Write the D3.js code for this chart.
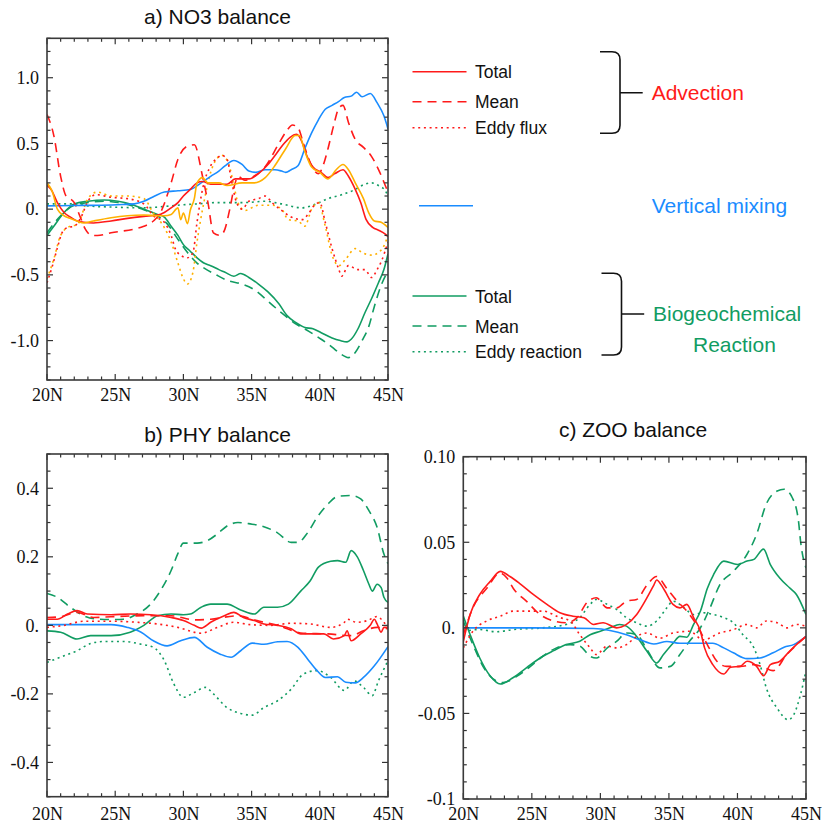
<!DOCTYPE html>
<html><head><meta charset="utf-8">
<script src="https://cdn.jsdelivr.net/npm/d3@7"></script>
<style>
html,body{margin:0;padding:0;background:#fff;}
svg{display:block;}
</style></head>
<body>
<svg id="chart" width="822" height="825"></svg>
<script>
// ---------------- DATA ----------------
const latTicks = [20, 25, 30, 35, 40, 45];
const latLabels = ["20N", "25N", "30N", "35N", "40N", "45N"];

// a) NO3 balance  [latitude, value]
const aAdvTotal = [[20,0.18],[20.3,0.15],[20.76,0.05],[21.25,-0.025],[21.7,-0.06],[22.2,-0.09],[22.7,-0.1],[23.4,-0.105],[24.7,-0.09],[25.9,-0.07],[27.1,-0.055],[28.1,-0.045],[28.6,-0.025],[29.1,0.01],[29.6,0.05],[30.0,0.1],[30.5,0.15],[31.0,0.2],[31.4,0.21],[32.0,0.19],[32.6,0.19],[33.2,0.19],[33.8,0.23],[34.8,0.23],[35.5,0.27],[36.2,0.34],[36.8,0.42],[37.3,0.49],[37.8,0.545],[38.3,0.57],[38.7,0.51],[39.0,0.42],[39.5,0.32],[40.1,0.28],[40.6,0.24],[41.1,0.27],[41.7,0.3],[42.1,0.25],[42.6,0.15],[43.0,0.05],[43.4,-0.08],[43.9,-0.14],[44.3,-0.16],[44.8,-0.19],[45,-0.21]];
const aAdvMean = [[20,0.72],[20.5,0.56],[21,0.25],[21.4,0.1],[21.7,0.08],[22.0,0.05],[22.4,-0.05],[22.8,-0.15],[23.3,-0.2],[23.7,-0.2],[24.7,-0.18],[27.1,-0.13],[27.8,-0.09],[28.3,-0.03],[29.1,0.2],[29.6,0.38],[30.3,0.48],[30.8,0.49],[31.4,0.25],[31.8,0.05],[32.2,-0.18],[32.7,-0.2],[33.05,-0.15],[33.4,0],[33.8,0.2],[34.0,0.25],[34.5,0.22],[35.0,0.24],[36.05,0.33],[37.0,0.5],[37.6,0.6],[38.0,0.64],[38.4,0.62],[38.8,0.5],[39.4,0.33],[39.9,0.27],[40.3,0.35],[40.6,0.46],[41.0,0.63],[41.4,0.77],[41.7,0.79],[42.1,0.66],[42.6,0.53],[43.2,0.47],[43.8,0.4],[44.4,0.28],[44.8,0.18],[45,0.13]];
const aAdvEddy = [[20,-0.56],[20.4,-0.43],[20.8,-0.28],[21.1,-0.18],[21.5,-0.14],[22.0,-0.13],[22.5,-0.06],[23.0,0.06],[23.6,0.11],[24.7,0.09],[25.9,0.08],[27.1,0.04],[27.8,-0.05],[28.6,-0.1],[29.1,-0.2],[29.4,-0.3],[29.8,-0.35],[30.3,-0.37],[30.7,-0.33],[31.0,-0.1],[31.4,0.15],[32.0,0.33],[32.5,0.39],[32.8,0.41],[33.2,0.38],[33.5,0.23],[33.9,0.05],[34.3,0],[34.8,0.06],[35.5,0.08],[36.0,0.1],[36.5,0.05],[37.2,-0.01],[37.9,-0.06],[38.7,-0.08],[39.2,-0.03],[39.6,0.03],[40.0,0.05],[40.4,-0.1],[40.9,-0.3],[41.4,-0.46],[41.6,-0.51],[42.1,-0.43],[42.8,-0.46],[43.3,-0.46],[43.8,-0.52],[44.2,-0.46],[44.5,-0.4],[45,-0.25]];
const aAdvTotalAlt = [[20,0.2],[20.4,0.13],[20.76,0.0],[21.25,-0.05],[21.7,-0.07],[22.2,-0.09],[22.7,-0.105],[23.4,-0.09],[24.7,-0.065],[25.9,-0.05],[27.1,-0.045],[28.1,-0.05],[28.6,-0.05],[29.1,-0.04],[29.6,0.01],[29.8,-0.08],[30.0,-0.03],[30.3,-0.11],[30.5,-0.01],[30.8,0.08],[31.0,0.2],[31.4,0.24],[31.8,0.2],[32.6,0.2],[33.2,0.18],[34.3,0.2],[35.2,0.2],[36.0,0.24],[36.7,0.33],[37.5,0.46],[38.2,0.56],[38.5,0.56],[38.9,0.44],[39.4,0.32],[40.0,0.28],[40.6,0.23],[41.2,0.3],[41.7,0.34],[42.1,0.3],[42.6,0.2],[43.2,0.08],[43.6,-0.03],[44.0,-0.09],[44.5,-0.1],[45,-0.14]];
const aAdvEddyAlt = [[20,-0.53],[20.5,-0.38],[21.0,-0.2],[21.7,-0.13],[22.2,-0.12],[23.0,0.08],[23.7,0.13],[24.7,0.1],[25.9,0.1],[27.1,0.08],[27.8,-0.03],[28.6,-0.14],[29.1,-0.25],[29.6,-0.41],[30.0,-0.53],[30.3,-0.57],[30.7,-0.48],[31.0,-0.25],[31.5,0.05],[32.0,0.28],[32.5,0.39],[32.8,0.41],[33.3,0.35],[33.7,0.18],[34.0,0.05],[34.5,-0.01],[35.5,0.03],[36.5,0.03],[37.2,0],[37.7,-0.08],[38.4,-0.09],[38.9,-0.13],[39.4,0.0],[39.9,0.05],[40.4,-0.13],[40.9,-0.35],[41.4,-0.43],[41.9,-0.38],[42.6,-0.3],[43.1,-0.33],[43.8,-0.35],[44.3,-0.33],[44.7,-0.28],[45,-0.2]];
const aVmix = [[20,0.025],[22,0.028],[24,0.03],[25.5,0.035],[26.4,0.04],[27.1,0.06],[27.9,0.1],[28.6,0.13],[29.6,0.14],[30.5,0.15],[31.3,0.2],[32.0,0.25],[32.6,0.29],[33.05,0.33],[33.7,0.37],[34.3,0.34],[34.8,0.29],[35.3,0.28],[36.0,0.3],[36.7,0.3],[37.2,0.29],[37.5,0.28],[37.9,0.3],[38.4,0.33],[38.9,0.46],[39.4,0.58],[39.9,0.68],[40.4,0.76],[40.9,0.79],[41.4,0.82],[41.8,0.85],[42.3,0.86],[42.7,0.89],[43.1,0.855],[43.7,0.88],[44.2,0.81],[44.7,0.71],[45,0.61]];
const aBioTotal = [[20,-0.2],[20.5,-0.13],[21.25,-0.025],[22,0.04],[23,0.06],[24.2,0.07],[25.2,0.06],[26.1,0.04],[27.1,0.0],[28.1,-0.04],[28.6,-0.06],[29.1,-0.13],[29.6,-0.2],[30.0,-0.27],[30.5,-0.32],[31.0,-0.37],[31.5,-0.41],[32.0,-0.43],[32.6,-0.46],[33.05,-0.48],[33.7,-0.51],[34.2,-0.49],[34.8,-0.52],[35.5,-0.57],[36.2,-0.63],[37.0,-0.72],[37.6,-0.81],[38.2,-0.86],[38.9,-0.9],[39.5,-0.91],[40.1,-0.94],[40.9,-0.98],[41.5,-1.0],[42.0,-1.01],[42.3,-0.99],[42.8,-0.91],[43.3,-0.79],[43.8,-0.68],[44.3,-0.56],[44.7,-0.46],[45,-0.34]];
const aBioMean = [[20,-0.18],[21,-0.05],[22,0.03],[23,0.05],[24.2,0.06],[25.2,0.05],[26.1,0.03],[27.1,-0.005],[28.1,-0.05],[28.8,-0.11],[29.6,-0.23],[30.3,-0.33],[31.0,-0.41],[31.7,-0.46],[32.4,-0.5],[33.3,-0.545],[34.3,-0.57],[35.3,-0.62],[36.2,-0.7],[37.2,-0.79],[38.2,-0.87],[39.2,-0.93],[40.1,-0.99],[40.9,-1.05],[41.5,-1.1],[42.1,-1.13],[42.6,-1.09],[43.1,-1.0],[43.6,-0.89],[44.0,-0.74],[44.5,-0.58],[45,-0.47]];
const aBioEddy = [[20,0.04],[22,0.04],[23,0.025],[25,0.015],[27,0.01],[28,0.015],[29.6,0.03],[31,0.04],[32.5,0.05],[34.5,0.05],[36,0.06],[37.2,0.04],[38.7,0.01],[39.5,0.03],[40.6,0.08],[41.6,0.11],[42.6,0.15],[43.3,0.19],[43.8,0.2],[44.3,0.18],[44.8,0.14],[45,0.1]];

// b) PHY balance
const bAdvTotal = [[20,0.018],[20.75,0.018],[21.5,0.033],[22.2,0.043],[22.95,0.033],[24.7,0.031],[26.1,0.033],[27.6,0.031],[29.1,0.023],[30.0,0.014],[30.8,0],[31.3,-0.008],[32.0,0.009],[33.0,0.028],[33.7,0.038],[34.4,0.023],[35.2,0.014],[35.9,0.004],[36.9,0],[37.9,-0.01],[38.6,-0.025],[39.3,-0.025],[40.3,-0.025],[41.0,-0.04],[41.8,-0.03],[42.0,-0.016],[42.3,-0.045],[43.0,-0.025],[43.7,0],[44.0,0.018],[44.2,0.004],[44.5,-0.02],[44.7,-0.006],[45,-0.006]];
const bAdvMean = [[20,0.023],[21,0.025],[22.2,0.038],[23.4,0.023],[24.7,0.025],[27.1,0.028],[29.1,0.028],[30.8,0.016],[32,0.018],[34,0.028],[35.4,0.014],[36.9,0],[38.8,-0.023],[40.6,-0.025],[42.3,-0.03],[43.2,-0.016],[44.2,-0.006],[45,-0.01]];
const bAdvEddy = [[20,-0.006],[21.25,0],[22.7,0.012],[24.7,0.012],[26.6,0.009],[28.1,0.004],[29.6,-0.006],[31.3,-0.023],[32.5,-0.006],[33.7,0.009],[34.9,0.002],[36.4,0],[37.9,0.006],[39.3,0.004],[40.8,-0.006],[41.8,0.009],[42.0,0.018],[42.7,0.009],[43.5,0.014],[44.2,0.026],[44.7,0.009],[45,-0.006]];
const bVmix = [[20,0.002],[24.7,0.002],[25.9,-0.006],[26.9,-0.02],[27.8,-0.045],[28.8,-0.06],[29.8,-0.045],[30.8,-0.035],[31.75,-0.064],[32.7,-0.084],[33.5,-0.093],[34.2,-0.074],[35.05,-0.052],[35.9,-0.055],[36.9,-0.048],[37.6,-0.047],[38.4,-0.064],[39.1,-0.098],[39.8,-0.132],[40.4,-0.152],[41.3,-0.15],[41.9,-0.166],[42.6,-0.168],[43.2,-0.152],[44.0,-0.118],[45,-0.062]];
const bBioTotal = [[20,-0.016],[21,-0.02],[22.2,-0.04],[23.2,-0.03],[24.7,-0.03],[26.1,-0.02],[27.1,0],[28.1,0.028],[29.1,0.033],[30.0,0.031],[30.5,0.033],[31.3,0.053],[32.0,0.062],[33.2,0.062],[34.2,0.045],[35.2,0.033],[35.9,0.053],[36.9,0.053],[37.7,0.062],[38.6,0.1],[39.3,0.13],[39.9,0.17],[40.8,0.187],[41.3,0.189],[41.9,0.184],[42.3,0.218],[42.75,0.2],[43.2,0.16],[43.6,0.12],[43.85,0.1],[44.2,0.12],[44.5,0.11],[44.7,0.082],[45,0.067]];
const bBioMean = [[20,0.093],[20.75,0.082],[21.7,0.053],[22.7,0.028],[23.7,0.018],[24.7,0.017],[25.6,0.018],[26.6,0.033],[27.6,0.062],[28.3,0.1],[29.1,0.16],[29.6,0.21],[30.0,0.24],[31.0,0.24],[31.75,0.247],[32.5,0.267],[33.2,0.29],[34.0,0.3],[34.9,0.296],[35.9,0.288],[36.9,0.27],[37.9,0.242],[38.4,0.242],[39.1,0.27],[39.8,0.315],[40.6,0.354],[41.3,0.376],[42.3,0.379],[43.0,0.369],[43.6,0.335],[44.2,0.286],[44.7,0.208],[45,0.18]];
const bBioEddy = [[20,-0.108],[21.25,-0.089],[22.2,-0.074],[23.2,-0.053],[24.2,-0.047],[25.6,-0.047],[26.9,-0.055],[27.8,-0.064],[28.6,-0.103],[29.3,-0.171],[30.0,-0.21],[30.8,-0.196],[31.6,-0.181],[32.2,-0.2],[33.2,-0.24],[34.2,-0.257],[35.05,-0.262],[35.9,-0.24],[36.9,-0.22],[37.9,-0.186],[38.8,-0.142],[39.8,-0.132],[40.8,-0.152],[41.8,-0.19],[42.5,-0.162],[43.2,-0.181],[43.85,-0.205],[44.3,-0.162],[45,-0.103]];

// c) ZOO balance
const cAdvTotal = [[20,-0.008],[20.5,0.008],[21.2,0.0195],[21.95,0.027],[22.7,0.033],[23.4,0.03],[24.1,0.026],[25.1,0.0195],[26.1,0.0137],[27.05,0.0088],[28.0,0.0068],[28.8,0.0059],[29.5,0.002],[30.2,0.003],[31.2,0],[31.9,0.002],[32.65,0.0078],[33.4,0.0176],[33.9,0.025],[34.1,0.028],[34.6,0.023],[35.3,0.0137],[35.8,0.0117],[36.3,0.0137],[36.8,0.006],[37.3,-0.002],[37.6,-0.0117],[38.2,-0.0215],[39.0,-0.027],[39.5,-0.023],[40.2,-0.0225],[40.7,-0.0195],[41.4,-0.0225],[41.9,-0.028],[42.4,-0.0215],[43.1,-0.0195],[43.8,-0.0137],[44.3,-0.0098],[45,-0.005]];
const cAdvMean = [[20,-0.004],[20.7,0.0117],[21.7,0.023],[22.7,0.032],[23.2,0.029],[23.65,0.023],[24.6,0.0156],[25.6,0.0078],[26.6,0.004],[27.5,0.003],[28.3,0.006],[29.0,0.0146],[29.7,0.0176],[30.5,0.0117],[31.2,0.0117],[31.9,0.0156],[32.65,0.0166],[33.4,0.025],[34.1,0.03],[34.85,0.023],[35.6,0.0156],[36.3,0.0098],[37.0,0.002],[37.8,-0.0098],[38.5,-0.0195],[39.2,-0.0225],[40.2,-0.0225],[41.2,-0.0215],[41.9,-0.023],[42.6,-0.025],[43.6,-0.0156],[45,-0.005]];
const cAdvEddy = [[20,-0.0117],[20.7,-0.002],[21.7,0.004],[22.7,0.0068],[23.65,0.0098],[24.6,0.0098],[25.8,0.0098],[27.05,0.006],[27.8,0.004],[28.5,-0.004],[29.25,-0.0117],[29.7,-0.0156],[30.5,-0.0107],[31.2,-0.0117],[31.9,-0.0098],[32.65,-0.005],[33.4,-0.003],[34.35,-0.006],[35.3,-0.003],[36.5,-0.002],[37.5,-0.007],[38.7,-0.003],[39.7,-0.001],[40.7,0.002],[41.4,0],[42.1,0.004],[42.9,0.003],[43.6,0],[44.3,0.002],[45,0.001]];
const cVmix = [[20,0],[25,0],[29.5,-0.0004],[30.7,-0.0015],[31.9,-0.004],[32.9,-0.007],[33.9,-0.0094],[34.85,-0.008],[35.8,-0.009],[36.8,-0.009],[38.2,-0.009],[39.0,-0.0117],[39.7,-0.0146],[40.7,-0.018],[41.65,-0.0176],[42.6,-0.0146],[43.4,-0.0113],[44.1,-0.0098],[45,-0.005]];
const cBioTotal = [[20,0.0068],[20.5,-0.004],[21.2,-0.0176],[21.95,-0.028],[22.7,-0.0328],[23.65,-0.029],[24.6,-0.0234],[25.6,-0.0176],[26.6,-0.0133],[27.5,-0.0098],[28.5,-0.0078],[29.25,-0.004],[30.0,-0.002],[30.7,0],[31.4,0.002],[31.9,0.001],[32.65,-0.005],[33.4,-0.0137],[34.1,-0.0205],[34.6,-0.0156],[35.3,-0.009],[35.8,-0.005],[36.3,-0.0055],[36.8,0.002],[37.3,0.0098],[37.8,0.023],[38.25,0.031],[39.0,0.039],[40.0,0.037],[40.7,0.039],[41.2,0.04],[41.9,0.046],[42.4,0.037],[43.1,0.029],[43.8,0.0234],[44.3,0.0195],[45,0.0078]];
const cBioMean = [[20,0.004],[20.7,-0.0098],[21.5,-0.0234],[22.2,-0.03],[22.9,-0.032],[23.9,-0.0283],[24.9,-0.0225],[25.8,-0.0166],[26.8,-0.0117],[27.8,-0.0098],[28.5,-0.0107],[29.25,-0.0166],[29.7,-0.0176],[30.5,-0.0117],[31.2,-0.0078],[31.9,-0.003],[32.65,-0.004],[33.4,-0.0127],[34.35,-0.0234],[35.1,-0.0225],[35.8,-0.0156],[36.5,-0.0078],[37.3,0],[38.0,0.0117],[38.7,0.025],[39.7,0.033],[40.7,0.043],[41.4,0.0547],[42.1,0.0723],[42.9,0.08],[43.4,0.081],[44.0,0.076],[44.45,0.0625],[44.6,0.0508],[45,0.035]];
const cBioEddy = [[20,-0.002],[21.2,-0.001],[22.4,-0.0023],[23.65,-0.001],[25.8,0],[27.5,0.002],[28.5,0.006],[29.25,0.0137],[29.7,0.0166],[30.5,0.0137],[31.2,0.0107],[31.9,0.006],[32.65,0.003],[33.4,0.001],[34.1,0.004],[34.85,0.0117],[35.3,0.0156],[36.1,0.0117],[36.8,0.0078],[37.5,0.0088],[38.25,0.0078],[39.0,0.006],[39.7,0.003],[40.4,-0.004],[41.2,-0.0117],[41.65,-0.0215],[42.1,-0.035],[42.9,-0.047],[43.7,-0.0537],[44.1,-0.0508],[44.6,-0.039],[45,-0.025]];

// Legend
const advLegendLabels = ["Total", "Mean", "Eddy flux"];
const bioLegendLabels = ["Total", "Mean", "Eddy reaction"];

// ---------------- STYLE ----------------
const RED = "#ff1a1a", ORANGE = "#ffb000", BLUE = "#1a8cff", GREEN = "#119c62";
const DASH = "9,6", DOT = "2,3.7";
const serif = "'Liberation Serif','Times New Roman',serif";
const sans = "'Liberation Sans',Arial,Helvetica,sans-serif";

const svg = d3.select("#chart");

function drawPanel(cfg) {
  const x = d3.scaleLinear().domain([20, 45]).range([cfg.left, cfg.right]);
  const y = d3.scaleLinear().domain(cfg.yDomain).range([cfg.bottom, cfg.top]);
  const g = svg.append("g");
  const id = "clip" + cfg.name;
  svg.append("clipPath").attr("id", id).append("rect")
    .attr("x", cfg.left).attr("y", cfg.top)
    .attr("width", cfg.right - cfg.left).attr("height", cfg.bottom - cfg.top);

  const minorX = d3.range(20, 45.001, 1);
  const minorY = d3.range(cfg.yDomain[0], cfg.yDomain[1] + cfg.minor / 2, cfg.minor).map(v => +v.toFixed(6));
  const isMajorY = v => cfg.majorY.some(m => Math.abs(m - v) < 1e-6);
  const isMajorX = v => latTicks.includes(v);

  const lineG = g.append("g").attr("clip-path", `url(#${id})`);
  const line = d3.line().x(d => x(d[0])).y(d => y(d[1])).curve(d3.curveMonotoneX);
  cfg.series.forEach(s => {
    lineG.append("path").datum(s.data)
      .attr("d", line).attr("fill", "none")
      .attr("stroke", s.color).attr("stroke-width", 1.6)
      .attr("stroke-dasharray", s.dash || null)
      .attr("stroke-linejoin", "round");
  });

  // ticks (inward) on all sides
  const tg = g.append("g").attr("stroke", "#333").attr("stroke-width", 1.2);
  minorX.forEach(v => {
    const L = isMajorX(v) ? 6 : 3.5;
    tg.append("line").attr("x1", x(v)).attr("x2", x(v)).attr("y1", cfg.bottom).attr("y2", cfg.bottom - L);
    tg.append("line").attr("x1", x(v)).attr("x2", x(v)).attr("y1", cfg.top).attr("y2", cfg.top + L);
  });
  minorY.forEach(v => {
    const L = isMajorY(v) ? 6 : 3.5;
    tg.append("line").attr("y1", y(v)).attr("y2", y(v)).attr("x1", cfg.left).attr("x2", cfg.left + L);
    tg.append("line").attr("y1", y(v)).attr("y2", y(v)).attr("x1", cfg.right).attr("x2", cfg.right - L);
  });

  g.append("rect").attr("x", cfg.left).attr("y", cfg.top)
    .attr("width", cfg.right - cfg.left).attr("height", cfg.bottom - cfg.top)
    .attr("fill", "none").attr("stroke", "#3a3a3a").attr("stroke-width", 1.6);

  // labels
  const ax = d3.axisBottom(x).tickValues(latTicks)
    .tickFormat((d, i) => latLabels[i]).tickSize(0).tickPadding(cfg.xPad);
  const axG = g.append("g").attr("transform", `translate(0,${cfg.bottom})`).call(ax);
  axG.select(".domain").remove();
  axG.selectAll("text").attr("font-family", serif).attr("font-size", 18).attr("fill", "#111");

  const ay = d3.axisLeft(y).tickValues(cfg.majorY)
    .tickFormat((d, i) => cfg.yLabels[i]).tickSize(0).tickPadding(8);
  const ayG = g.append("g").attr("transform", `translate(${cfg.left},0)`).call(ay);
  ayG.select(".domain").remove();
  ayG.selectAll("text").attr("font-family", serif).attr("font-size", 18).attr("fill", "#111");

  svg.append("text").attr("x", cfg.titleX).attr("y", cfg.titleY)
    .attr("text-anchor", "middle").attr("font-family", sans).attr("font-size", 21)
    .attr("fill", "#111").text(cfg.title);
}

drawPanel({
  name: "a", title: "a) NO3 balance", titleX: 217.5, titleY: 24,
  left: 47, right: 388, top: 38.3, bottom: 380, xPad: 8,
  yDomain: [-1.3, 1.3], minor: 0.1,
  majorY: [-1.0, -0.5, 0, 0.5, 1.0], yLabels: ["-1.0", "-0.5", "0.", "0.5", "1.0"],
  series: [
    { data: aBioEddy, color: GREEN, dash: DOT },
    { data: aBioMean, color: GREEN, dash: DASH },
    { data: aBioTotal, color: GREEN },
    { data: aAdvEddyAlt, color: ORANGE, dash: DOT },
    { data: aAdvEddy, color: RED, dash: DOT },
    { data: aAdvMean, color: RED, dash: DASH },
    { data: aVmix, color: BLUE },
    { data: aAdvTotal, color: RED },
    { data: aAdvTotalAlt, color: ORANGE }
  ]
});

drawPanel({
  name: "b", title: "b) PHY balance", titleX: 217.5, titleY: 442,
  left: 47, right: 388, top: 454, bottom: 796.7, xPad: 11,
  yDomain: [-0.5, 0.5], minor: 0.05,
  majorY: [-0.4, -0.2, 0, 0.2, 0.4], yLabels: ["-0.4", "-0.2", "0.", "0.2", "0.4"],
  series: [
    { data: bBioEddy, color: GREEN, dash: DOT },
    { data: bBioMean, color: GREEN, dash: DASH },
    { data: bBioTotal, color: GREEN },
    { data: bVmix, color: BLUE },
    { data: bAdvEddy, color: RED, dash: DOT },
    { data: bAdvMean, color: RED, dash: DASH },
    { data: bAdvTotal, color: RED }
  ]
});

drawPanel({
  name: "c", title: "c) ZOO balance", titleX: 633, titleY: 437,
  left: 463.3, right: 806, top: 456.7, bottom: 799, xPad: 8,
  yDomain: [-0.1, 0.1], minor: 0.01,
  majorY: [-0.1, -0.05, 0, 0.05, 0.1], yLabels: ["-0.1", "-0.05", "0.", "0.05", "0.10"],
  series: [
    { data: cBioEddy, color: GREEN, dash: DOT },
    { data: cBioMean, color: GREEN, dash: DASH },
    { data: cBioTotal, color: GREEN },
    { data: cVmix, color: BLUE },
    { data: cAdvEddy, color: RED, dash: DOT },
    { data: cAdvMean, color: RED, dash: DASH },
    { data: cAdvTotal, color: RED }
  ]
});

// ---------------- LEGEND ----------------
const lg = svg.append("g");
const dashes = [null, DASH, DOT];
function legendGroup(labels, color, ys, x1, x2) {
  labels.forEach((lab, i) => {
    lg.append("line").attr("x1", x1).attr("x2", x2).attr("y1", ys[i]).attr("y2", ys[i])
      .attr("stroke", color).attr("stroke-width", 1.6).attr("stroke-dasharray", dashes[i]);
    lg.append("text").attr("x", 475).attr("y", ys[i] + 6.5)
      .attr("font-family", sans).attr("font-size", 17.5).attr("fill", "#111").text(lab);
  });
}
legendGroup(advLegendLabels, RED, [71.7, 101.7, 127.7], 412.5, 466.5);
legendGroup(bioLegendLabels, GREEN, [296, 326, 351.7], 412.5, 466.5);

lg.append("line").attr("x1", 419).attr("x2", 473).attr("y1", 205.7).attr("y2", 205.7)
  .attr("stroke", BLUE).attr("stroke-width", 1.6);

function bracket(x0, yTop, yBot, yMid) {
  const xr = x0 + 20, r = 8;
  lg.append("path")
    .attr("d", `M${x0},${yTop} L${xr - r},${yTop} Q${xr},${yTop} ${xr},${yTop + r} L${xr},${yBot - r} Q${xr},${yBot} ${xr - r},${yBot} L${x0},${yBot} M${xr},${yMid} L${xr + 22.7},${yMid}`)
    .attr("fill", "none").attr("stroke", "#111").attr("stroke-width", 1.6);
}
bracket(600, 51.7, 133.3, 92.7);
bracket(601.5, 273.3, 355, 314);

lg.append("text").attr("x", 651.7).attr("y", 100).attr("font-family", sans).attr("font-size", 21)
  .attr("fill", RED).text("Advection");
lg.append("text").attr("x", 651.7).attr("y", 213.3).attr("font-family", sans).attr("font-size", 21)
  .attr("fill", BLUE).text("Vertical mixing");
lg.append("text").attr("x", 653).attr("y", 321).attr("font-family", sans).attr("font-size", 21)
  .attr("fill", GREEN).text("Biogeochemical");
lg.append("text").attr("x", 693).attr("y", 351.7).attr("font-family", sans).attr("font-size", 21)
  .attr("fill", GREEN).text("Reaction");
</script>
</body></html>
